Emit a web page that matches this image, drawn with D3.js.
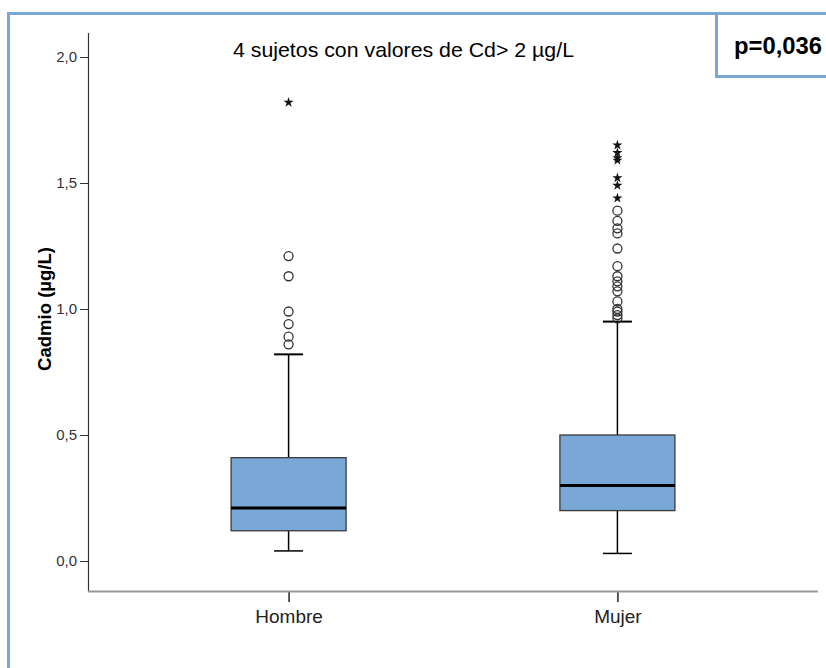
<!DOCTYPE html>
<html>
<head>
<meta charset="utf-8">
<script src="https://cdn.jsdelivr.net/npm/d3@7"></script>
<style>
  body { margin: 0; background: #fff; }
  text { font-family: "Liberation Sans", Arial, sans-serif; }
</style>
</head>
<body>
<div id="chart"></div>
<script>
// categories and box statistics
var groups = ["Hombre", "Mujer"];
var q1 = [0.12, 0.20];
var medians = [0.21, 0.30];
var q3 = [0.41, 0.50];
var whiskerLow = [0.04, 0.03];
var whiskerHigh = [0.82, 0.95];
// outliers (circles) and extremes (stars)
var outliersHombre = [1.21, 1.13, 0.99, 0.94, 0.89, 0.86];
var outliersMujer = [1.39, 1.35, 1.32, 1.30, 1.24, 1.17, 1.13, 1.11, 1.09, 1.07, 1.03, 1.00, 0.99, 0.976, 0.963];
var extremesHombre = [1.82];
var extremesMujer = [1.65, 1.62, 1.60, 1.59, 1.52, 1.49, 1.44];
var yTicks = [0, 0.5, 1.0, 1.5, 2.0];

var W = 826, H = 668;
var svg = d3.select("#chart").append("svg")
    .attr("width", W)
    .attr("height", H);

var blue = "#7ba7d6";

// frame around the figure
svg.append("line").attr("x1", 8.5).attr("x2", 8.5).attr("y1", 12).attr("y2", H)
    .attr("stroke", blue).attr("stroke-width", 3);
svg.append("line").attr("x1", 7).attr("x2", W).attr("y1", 13.5).attr("y2", 13.5)
    .attr("stroke", blue).attr("stroke-width", 3);
// p-value box
svg.append("line").attr("x1", 716.5).attr("x2", 716.5).attr("y1", 12).attr("y2", 78)
    .attr("stroke", blue).attr("stroke-width", 3);
svg.append("line").attr("x1", 715).attr("x2", W).attr("y1", 76.5).attr("y2", 76.5)
    .attr("stroke", blue).attr("stroke-width", 3);
svg.append("text")
    .attr("x", 734).attr("y", 54)
    .attr("font-size", 24).attr("font-weight", "bold")
    .attr("textLength", 88).attr("lengthAdjust", "spacingAndGlyphs")
    .attr("fill", "#000")
    .text("p=0,036");

svg.append("text")
    .attr("x", 233).attr("y", 57)
    .attr("font-size", 21)
    .attr("textLength", 341).attr("lengthAdjust", "spacingAndGlyphs")
    .attr("fill", "#000")
    .text("4 sujetos con valores de Cd> 2 µg/L");

var plotL = 88, plotR = 818, plotT = 33, plotB = 591;

var y = d3.scaleLinear().domain([0, 2]).range([561, 57]);
var x = d3.scalePoint().domain(groups).range([plotL, plotR]).padding(0.61);

// y axis
var yAxis = svg.append("g")
    .attr("transform", "translate(" + plotL + ",0)")
    .call(d3.axisLeft(y).tickValues(yTicks).tickSize(8).tickPadding(3)
        .tickFormat(function(d) { return d3.format(".1f")(d).replace(".", ","); }));
yAxis.select(".domain").remove();
yAxis.selectAll(".tick line").attr("stroke", "#333");
yAxis.selectAll(".tick text").attr("font-size", 15).attr("fill", "#333")
    .attr("font-family", "Roboto, 'Liberation Sans', sans-serif");
svg.append("line").attr("x1", plotL + 0.5).attr("x2", plotL + 0.5).attr("y1", plotT).attr("y2", plotB)
    .attr("stroke", "#333").attr("stroke-width", 1.2);

// x axis
var xAxis = svg.append("g")
    .attr("transform", "translate(0," + plotB + ")")
    .call(d3.axisBottom(x).tickSize(11).tickPadding(4));
xAxis.select(".domain").remove();
xAxis.selectAll(".tick line").attr("stroke", "#222").attr("stroke-width", 1.5);
xAxis.selectAll(".tick text")
    .attr("font-size", 19).attr("fill", "#222")
    .attr("dy", null).attr("y", 32)
    .attr("font-family", "Roboto, 'Liberation Sans', sans-serif");
svg.append("line").attr("x1", plotL).attr("x2", plotR).attr("y1", plotB + 0.5).attr("y2", plotB + 0.5)
    .attr("stroke", "#999").attr("stroke-width", 2);

svg.append("text")
    .attr("transform", "translate(51," + y(1.0) + ") rotate(-90)")
    .attr("text-anchor", "middle")
    .attr("font-size", 18).attr("font-weight", "bold")
    .attr("textLength", 124).attr("lengthAdjust", "spacingAndGlyphs")
    .attr("fill", "#000")
    .text("Cadmio (µg/L)");

// boxes
var boxW = 115, capW = 29;
var boxes = groups.map(function(g, i) {
    return { name: g, q1: q1[i], med: medians[i], q3: q3[i], lo: whiskerLow[i], hi: whiskerHigh[i] };
});

var bg = svg.selectAll("g.box").data(boxes).enter().append("g").attr("class", "box");

bg.append("line")
    .attr("x1", function(d) { return x(d.name); })
    .attr("x2", function(d) { return x(d.name); })
    .attr("y1", function(d) { return y(d.hi); })
    .attr("y2", function(d) { return y(d.lo); })
    .attr("stroke", "#000").attr("stroke-width", 1.5);

bg.append("line")
    .attr("x1", function(d) { return x(d.name) - capW / 2; })
    .attr("x2", function(d) { return x(d.name) + capW / 2; })
    .attr("y1", function(d) { return y(d.hi); })
    .attr("y2", function(d) { return y(d.hi); })
    .attr("stroke", "#000").attr("stroke-width", 2);

bg.append("line")
    .attr("x1", function(d) { return x(d.name) - capW / 2; })
    .attr("x2", function(d) { return x(d.name) + capW / 2; })
    .attr("y1", function(d) { return y(d.lo); })
    .attr("y2", function(d) { return y(d.lo); })
    .attr("stroke", "#000").attr("stroke-width", 1.5);

bg.append("rect")
    .attr("x", function(d) { return x(d.name) - boxW / 2; })
    .attr("y", function(d) { return y(d.q3); })
    .attr("width", boxW)
    .attr("height", function(d) { return y(d.q1) - y(d.q3); })
    .attr("fill", "#79a8d6")
    .attr("stroke", "#3a3a3a").attr("stroke-width", 1.3);

bg.append("line")
    .attr("x1", function(d) { return x(d.name) - boxW / 2; })
    .attr("x2", function(d) { return x(d.name) + boxW / 2; })
    .attr("y1", function(d) { return y(d.med); })
    .attr("y2", function(d) { return y(d.med); })
    .attr("stroke", "#000").attr("stroke-width", 3);

// outliers
var circles = [];
outliersHombre.forEach(function(v) { circles.push({ g: "Hombre", v: v }); });
outliersMujer.forEach(function(v) { circles.push({ g: "Mujer", v: v }); });
svg.selectAll("circle.out").data(circles).enter().append("circle")
    .attr("class", "out")
    .attr("cx", function(d) { return x(d.g); })
    .attr("cy", function(d) { return y(d.v); })
    .attr("r", 4.5)
    .attr("fill", "none")
    .attr("stroke", "#333").attr("stroke-width", 1.3);

var stars = [];
extremesHombre.forEach(function(v) { stars.push({ g: "Hombre", v: v }); });
extremesMujer.forEach(function(v) { stars.push({ g: "Mujer", v: v }); });
svg.selectAll("path.ext").data(stars).enter().append("path")
    .attr("class", "ext")
    .attr("d", d3.symbol().type(d3.symbolStar).size(32))
    .attr("transform", function(d) { return "translate(" + x(d.g) + "," + y(d.v) + ")"; })
    .attr("fill", "#111");
</script>
</body>
</html>
